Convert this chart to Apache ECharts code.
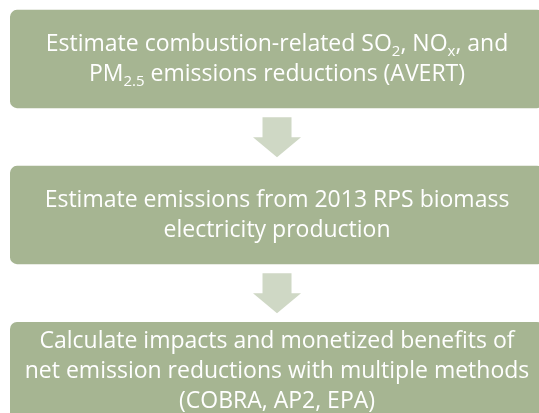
<!DOCTYPE html>
<html>
<head>
<meta charset="utf-8">
<script src="https://cdn.jsdelivr.net/npm/echarts@6/dist/echarts.min.js"></script>
<style>
  html, body { margin: 0; padding: 0; background: #fff; }
  #chart { width: 539px; height: 413px; }
</style>
</head>
<body>
<div id="chart"></div>
<script>
// process steps, top to bottom (rich text for subscripts)
const stepIds = ['avert', 'biomass', 'impacts']
const stepLabels = [
  'Estimate combustion-related SO{sub|2}, NO{sub|x}, and\nPM{sub|2.5} emissions reductions (AVERT)',
  'Estimate emissions from 2013 RPS biomass\nelectricity production',
  'Calculate impacts and monetized benefits of\nnet emission reductions with multiple methods\n(COBRA, AP2, EPA)'
]

const BOX_COLOR = '#a6b592'
const ARROW_COLOR = '#cfd8c5'
const TEXT_COLOR = '#ffffff'
const FONT = '"Open Sans", "Noto Sans", sans-serif'

function renderStep(params, api) {
  const idx = api.value(0)
  const left = api.coord([0, idx])
  const right = api.coord([1, idx])
  const center = api.coord([0.5, idx])
  const band = api.size([0, 1])[1]
  const boxH = band * 0.63
  const top = center[1] - boxH / 2
  const cx = center[0]
  const children = [
    {
      type: 'rect',
      shape: { x: left[0], y: top, width: right[0] - left[0], height: boxH, r: 7 },
      style: { fill: BOX_COLOR }
    },
    {
      type: 'text',
      x: cx,
      y: center[1],
      style: {
        text: stepLabels[idx],
        fill: TEXT_COLOR,
        fontFamily: FONT,
        fontSize: 23,
        lineHeight: 30,
        align: 'center',
        verticalAlign: 'middle',
        rich: {
          sub: { fill: TEXT_COLOR, fontFamily: FONT, fontSize: 15, lineHeight: 14, verticalAlign: 'bottom' }
        }
      }
    }
  ]
  if (idx < stepLabels.length - 1) {
    // block arrow in the gap under the box
    const y0 = top + boxH + 9
    const y1 = y0 + 20
    const y2 = y0 + 40
    children.push({
      type: 'polygon',
      shape: {
        points: [
          [cx - 14.5, y0], [cx + 14.5, y0], [cx + 14.5, y1], [cx + 24, y1],
          [cx, y2], [cx - 24, y1], [cx - 14.5, y1]
        ]
      },
      style: { fill: ARROW_COLOR }
    })
  }
  return { type: 'group', children }
}

const chart = echarts.init(document.getElementById('chart'), null, { renderer: 'canvas' })
chart.setOption({
  animation: false,
  backgroundColor: '#fff',
  grid: { left: 10, right: 0, top: 0, bottom: 0 },
  // box spans x 0..1; the right edge runs a little past the frame
  xAxis: { type: 'value', min: 0, max: 0.9906, show: false },
  // step i is centred at 59 + 156 * i px
  yAxis: { type: 'value', min: -0.378, max: 2.269, inverse: true, show: false },
  series: [
    {
      type: 'custom',
      renderItem: renderStep,
      clip: false,
      data: stepIds.map((_, i) => [i]),
      encode: { y: 0 }
    }
  ]
})
</script>
</body>
</html>
